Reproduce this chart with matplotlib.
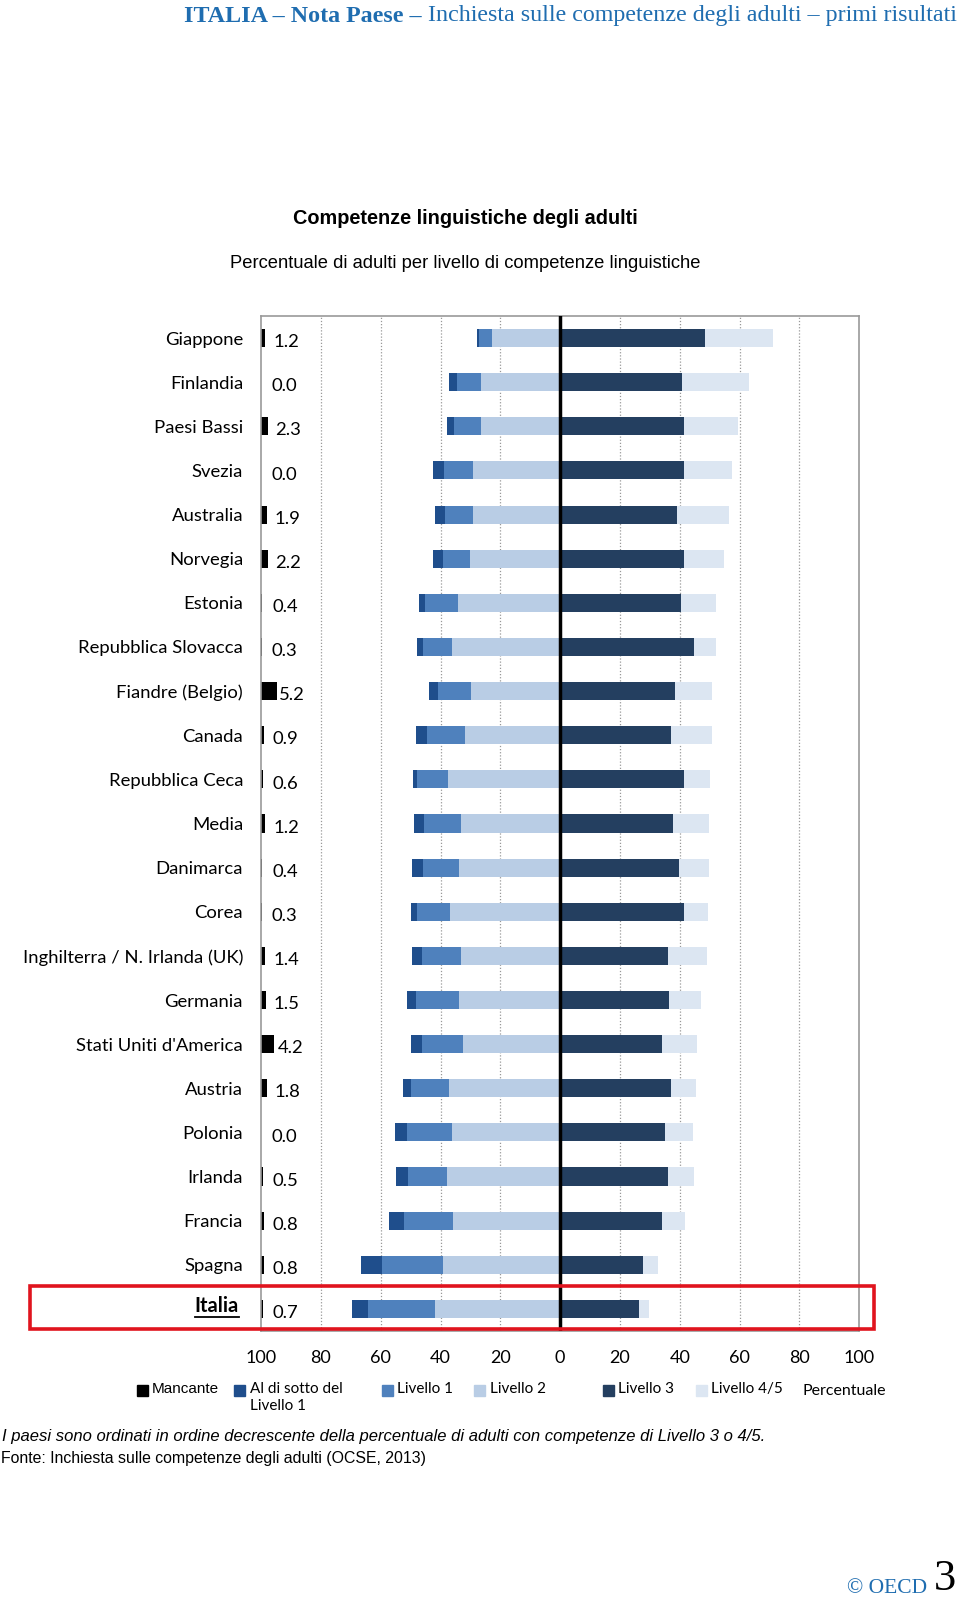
import matplotlib.pyplot as plt
import matplotlib.patches as mpatches
import numpy as np

countries = ["Giappone", "Finlandia", "Paesi Bassi", "Svezia", "Australia", "Norvegia",
             "Estonia", "Repubblica Slovacca", "Fiandre (Belgio)", "Canada",
             "Repubblica Ceca", "Media", "Danimarca", "Corea",
             "Inghilterra / N. Irlanda (UK)", "Germania", "Stati Uniti d'America",
             "Austria", "Polonia", "Irlanda", "Francia", "Spagna", "Italia"]
missing = [1.2, 0.0, 2.3, 0.0, 1.9, 2.2, 0.4, 0.3, 5.2, 0.9, 0.6, 1.2, 0.4, 0.3,
           1.4, 1.5, 4.2, 1.8, 0.0, 0.5, 0.8, 0.8, 0.7]
below1 = [0.6, 2.7, 2.6, 3.7, 3.1, 3.2, 2.0, 1.9, 3.0, 3.8, 1.5, 3.3, 3.8, 2.0,
          3.4, 3.0, 3.6, 2.5, 3.9, 4.0, 5.0, 7.2, 5.5]
level1 = [4.3, 8.0, 9.0, 9.5, 9.4, 8.9, 11.0, 9.6, 11.0, 12.6, 10.4, 12.2, 12.0, 11.0,
          13.1, 14.4, 13.8, 12.6, 14.9, 12.9, 16.4, 20.2, 22.2]
level2 = [22.8, 26.4, 26.4, 29.2, 29.2, 30.3, 34.3, 36.3, 29.9, 31.8, 37.4, 33.3, 33.9, 36.9,
          33.2, 33.8, 32.5, 37.3, 36.3, 37.9, 35.9, 39.3, 41.9]
level3 = [48.6, 40.6, 41.5, 41.5, 39.1, 41.5, 40.4, 44.6, 38.4, 37.0, 41.5, 37.9, 39.9, 41.5,
          35.9, 36.5, 34.0, 37.1, 35.0, 35.9, 34.0, 27.6, 26.2]
level45 = [22.6, 22.4, 18.1, 16.1, 17.4, 13.4, 11.7, 7.5, 12.5, 13.9, 8.5, 12.0, 10.0, 8.1,
           13.1, 10.7, 11.6, 8.4, 9.5, 8.7, 7.7, 5.0, 3.4]

c_miss = "#000000"
c_b1 = "#1f4e8c"
c_l1 = "#4f81bd"
c_l2 = "#b9cde5"
c_l3 = "#243f60"
c_l45 = "#dce6f2"
lab_font = "Lato"
W, H = 960, 1599

fig = plt.figure(figsize=(9.6, 15.99), dpi=100)
ax = fig.add_axes([0.272, 0.1676, 0.623, 0.6348])

y = np.arange(len(countries))
b1 = np.array(below1)
l1 = np.array(level1)
l2 = np.array(level2)
l3 = np.array(level3)
l45 = np.array(level45)
miss = np.array(missing)
h = 0.41

# left side: below level 3, drawn from 0 leftwards
ax.barh(y, -l2, height=h, color=c_l2, zorder=2)
ax.barh(y, -l1, left=-l2, height=h, color=c_l1, zorder=2)
ax.barh(y, -b1, left=-(l2 + l1), height=h, color=c_b1, zorder=2)
# right side
ax.barh(y, l3, height=h, color=c_l3, zorder=2)
ax.barh(y, l45, left=l3, height=h, color=c_l45, zorder=2)
# missing, from the left edge
ax.barh(y, miss, left=-100, height=h, color=c_miss, zorder=2)
for yi, m in zip(y, miss):
    ax.annotate(f"{m:.1f}", (-100 + m / 2, yi), xytext=(7.5, -3), textcoords="offset points",
                ha="left", va="center", fontsize=13.3, family=lab_font)

ax.set_xlim(-100, 100)
ax.set_ylim(len(countries) - 0.5, -0.5)
ax.axvline(0, color="black", lw=2.5, zorder=3)
for gx in [-80, -60, -40, -20, 20, 40, 60, 80]:
    ax.axvline(gx, color="#999999", lw=0.9, ls=(0, (1, 1.5)), zorder=1)
for s in ax.spines.values():
    s.set_color("#999999")
    s.set_linewidth(1.2)

ticks = np.arange(-100, 101, 20)
ax.set_xticks(ticks)
ax.set_xticklabels([str(abs(t)) for t in ticks], fontsize=13, family=lab_font)
ax.tick_params(axis="x", length=0, pad=14)
ax.set_yticks(y)
ax.set_yticklabels(countries[:-1] + [""], fontsize=13.3, family=lab_font)
ax.tick_params(axis="y", length=0, pad=13)

# Italia label: bold, underlined, inside a red box
it = fig.text(239 / W, 1 - 1306 / H, countries[-1], ha="right", va="center",
              fontsize=14.5, fontweight="bold", family=lab_font)
fig.add_artist(mpatches.Rectangle((30 / W, 1 - 1329 / H), 844 / W, 43 / H,
                                  fill=False, ec="#e0141e", lw=2.6))

# titles
fig.text(465 / W, 1 - 218 / H, "Competenze linguistiche degli adulti",
         ha="center", va="center", fontsize=14.3, fontweight="bold", family="Liberation Sans")
fig.text(465 / W, 1 - 264 / H, "Percentuale di adulti per livello di competenze linguistiche",
         ha="center", va="center", fontsize=13.2, family="Liberation Sans")

# header
hdr_col = "#1f6db0"
t1 = fig.text(0.5, 1 - 16 / H, "ITALIA \u2013 Nota Paese \u2013 ", ha="left", va="center",
              fontsize=17.3, fontweight="bold", color=hdr_col, family="Liberation Serif")
t2 = fig.text(0.5, 1 - 16 / H, "Inchiesta sulle competenze degli adulti \u2013 primi risultati",
              ha="right", va="center", fontsize=17.3, color=hdr_col, family="Liberation Serif")
fig.canvas.draw()
r = fig.canvas.get_renderer()
w2 = t2.get_window_extent(r).width
w1 = t1.get_window_extent(r).width
t2.set_x(957 / W)
t1.set_x((957 - w2 - w1) / W)

bb = it.get_window_extent(r)
uy = bb.y0 - 1
fig.add_artist(plt.Line2D([bb.x0 / W, bb.x1 / W], [uy / H, uy / H], color="black", lw=1.3))

# legend row
ly = 1 - 1391 / H
sq = 11
legend_items = [(137, 152, c_miss, "Mancante", "Liberation Sans"),
                (234, 250, c_b1, "Al di sotto del\nLivello 1", lab_font),
                (382, 397, c_l1, "Livello 1", lab_font),
                (474, 490, c_l2, "Livello 2", lab_font),
                (603, 618, c_l3, "Livello 3", lab_font),
                (696, 711, c_l45, "Livello 4/5", lab_font)]
for sx, tx, col, txt, fam in legend_items:
    fig.add_artist(mpatches.Rectangle((sx / W, ly - 5 / H), sq / W, sq / H, color=col))
    fig.text(tx / W, ly + 9 / H, txt, ha="left", va="top", fontsize=11,
             family=fam, linespacing=1.3)
fig.text(803 / W, ly, "Percentuale", ha="left", va="center", fontsize=11.5, family=lab_font)

# notes
fig.text(2 / W, 1 - 1436 / H,
         "I paesi sono ordinati in ordine decrescente della percentuale di adulti con competenze di Livello 3 o 4/5.",
         ha="left", va="center", fontsize=12, style="italic", family="Liberation Sans")
fig.text(1 / W, 1 - 1459 / H, "Fonte: Inchiesta sulle competenze degli adulti (OCSE, 2013)",
         ha="left", va="center", fontsize=11.4, family="Liberation Sans")

# footer
fig.text(927 / W, 1 - 1593 / H, "\u00a9 OECD", ha="right", va="baseline", fontsize=15.5,
         color=hdr_col, family="Liberation Serif")
fig.text(956 / W, 1 - 1590 / H, "3", ha="right", va="baseline", fontsize=32,
         color="black", family="Liberation Serif")

fig.savefig("out.png", dpi=100)
